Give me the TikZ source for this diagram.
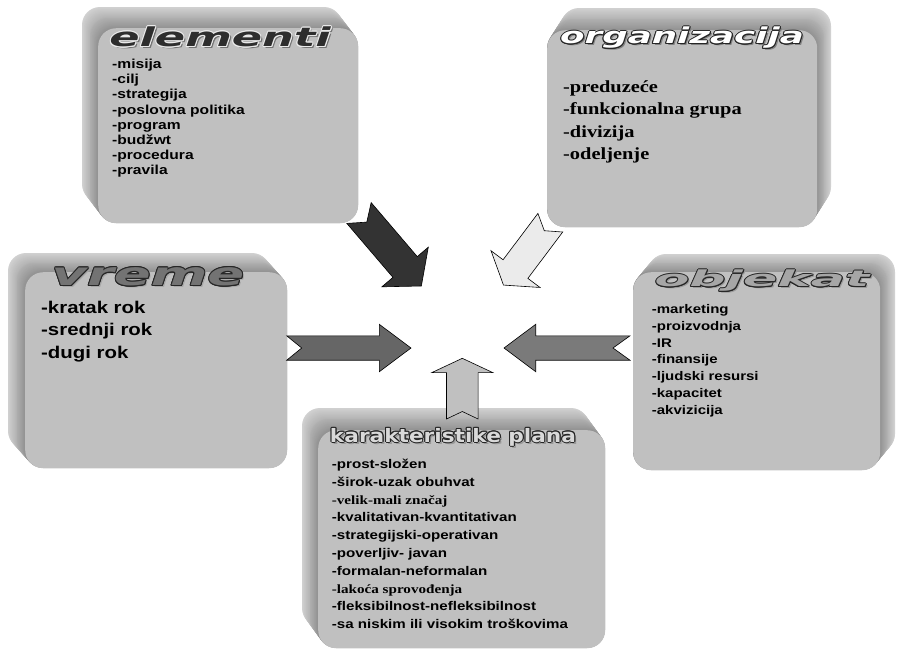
\documentclass[tikz,border=0pt]{standalone}
\usepackage{fontspec}
\usepackage{graphicx}
\usetikzlibrary{calc}
\newfontfamily\lsans{Liberation Sans}[FakeStretch=1.2]
\newfontfamily\lserif{Liberation Serif}[FakeStretch=1.2]
\newfontfamily\wafont{DejaVu Sans}
\definecolor{face}{HTML}{C0C0C0}
\definecolor{arrdark}{HTML}{333333}
\definecolor{arrlight}{HTML}{EBEBEB}
\definecolor{arrleft}{HTML}{666666}
\definecolor{arrright}{HTML}{7A7A7A}
\definecolor{arrup}{HTML}{C0C0C0}
\tikzset{
  facebox/.style={fill=face, draw=none, rounded corners=18pt, inner sep=0pt, anchor=north west},
  listtext/.style={inner sep=0pt, anchor=base west, align=left, text=black},
  fatarrowstyle/.style={draw=black, line width=0.6pt, line join=miter},
}
% #1 name, #2 x1, #3 y1, #4 x2, #5 y2, #6 dx, #7 dy (back face offset)
\newcommand\extbox[7]{%
  \foreach \i in {0,...,24}{%
    \pgfmathsetmacro\f{1-\i/24}%
    \pgfmathtruncatemacro\c{18+26*\i/24}%
    \fill[black!\c, rounded corners=18pt] ({#2+\f*#6},{#3+\f*#7}) rectangle ({#4+\f*#6},{#5+\f*#7});
  }
  \pgfmathsetmacro\bw{#4-#2}%
  \pgfmathsetmacro\bh{#5-#3}%
  \node[facebox, minimum width=\bw pt, minimum height=\bh pt] (#1) at (#2,#3) {};
}
% #1 name, #2 tail point, #3 angle, #4 length, #5 half shaft, #6 half head, #7 head length, #8 notch, #9 fill
\newcommand\fatarrow[9]{%
  \begin{scope}[shift={(#2)}, rotate=#3]
    \coordinate (#1) at (#4,0);
    \filldraw[fatarrowstyle, fill=#9] (0,#5) -- ({#4-#7},#5) -- ({#4-#7},#6) -- (#1) -- ({#4-#7},-#6) -- ({#4-#7},-#5) -- (0,-#5) -- (#8,0) -- cycle;
  \end{scope}}
% #1 name, #2 centre, #3 font, #4 fill, #5 outline, #6 shadow, #7 text
\newcommand\wordart[7]{%
  \node[inner sep=0pt, font=#3, text=#6] at ($(#2)+(2,2)$) {#7};
  \foreach \a in {0,30,...,330}{\node[inner sep=0pt, font=#3, text=#5] at ($(#2)+(\a:1.0)$) {#7};}
  \node[inner sep=0pt, font=#3, text=#4] (#1) at (#2) {#7};
}
\begin{document}
\begin{tikzpicture}[x=1pt, y=-1pt]
\fill[white] (0,0) rectangle (897,657);
\useasboundingbox (0,0) rectangle (897,657);

% boxes
\extbox{elem}{98}{28}{358}{223}{-16}{-21}
\extbox{org}{547}{30}{817}{227}{14}{-22}
\extbox{vreme}{25}{272}{287}{468}{-17}{-19}
\extbox{obj}{633}{272}{880}{470}{15}{-18}
\extbox{kar}{318}{430}{605}{648}{-16}{-22}

% titles
\wordart{telem}{220,37}{\wafont\bfseries\itshape\fontsize{26}{26}\selectfont}{black!82}{black!8}{black!55}{\scalebox{1.72}[1]{elementi}}
\wordart{torg}{682,38}{\wafont\bfseries\itshape\fontsize{22}{22}\selectfont}{white}{black!85}{black!50}{\scalebox{1.62}[1]{organizacija}}
\wordart{tvreme}{148,277}{\wafont\bfseries\itshape\fontsize{32}{32}\selectfont}{black!55}{black!85}{black!35}{\scalebox{1.7}[1]{vreme}}
\wordart{tobj}{762,281}{\wafont\bfseries\itshape\fontsize{22}{22}\selectfont}{black!35}{black!85}{black!40}{\scalebox{2.3}[1]{objekat}}
\wordart{tkar}{453,437}{\wafont\bfseries\fontsize{18.5}{18.5}\selectfont}{black!15}{black!85}{black!40}{\scalebox{1.17}[1]{karakteristike plana}}

% lists (anchor = baseline of the last line)
\node[listtext, font=\lsans\bfseries\fontsize{13}{15.2}\selectfont] (lelem) at (112,174.9)
  {-misija\\-cilj\\-strategija\\-poslovna politika\\-program\\-budžwt\\-procedura\\-pravila};
\node[listtext, font=\lserif\bfseries\fontsize{17}{22.5}\selectfont] (lorg) at (563,159.5)
  {-preduzeće\\-funkcionalna grupa\\-divizija\\-odeljenje};
\node[listtext, font=\lsans\bfseries\fontsize{17}{22.4}\selectfont] (lvreme) at (41,358.1)
  {-kratak rok\\-srednji rok\\-dugi rok};
\node[listtext, font=\lsans\bfseries\fontsize{12.5}{16.8}\selectfont] (lobj) at (651.7,414.3)
  {-marketing\\-proizvodnja\\-IR\\-finansije\\-ljudski resursi\\-kapacitet\\-akvizicija};
\node[listtext, font=\lsans\bfseries\fontsize{12.6}{17.8}\selectfont] (lkar) at (331.7,628.7)
  {-prost-složen\\-širok-uzak obuhvat\\{\lserif\fontsize{12.6}{17.8}\selectfont -velik-mali značaj}\\-kvalitativan-kvantitativan\\-strategijski-operativan\\-poverljiv- javan\\-formalan-neformalan\\{\lserif\fontsize{12.6}{17.8}\selectfont -lakoća sprovođenja}\\-fleksibilnost-nefleksibilnost\\-sa niskim ili visokim troškovima};

% arrows
\fatarrow{adark}{359,213}{-49.5}{96}{16}{30.5}{25}{12}{arrdark}
\fatarrow{alight}{550.3,222.7}{-126.9}{78}{15.5}{30.6}{20}{10}{arrlight}
\fatarrow{aleft}{286.7,348}{0}{124.3}{12.2}{23.7}{31.7}{15}{arrleft}
\fatarrow{aright}{630,348}{180}{126}{12.2}{23.7}{31.7}{17}{arrright}
\fatarrow{aup}{462.3,419}{90}{60.7}{15.8}{30.5}{14.3}{7.5}{arrup}
\end{tikzpicture}
\end{document}
